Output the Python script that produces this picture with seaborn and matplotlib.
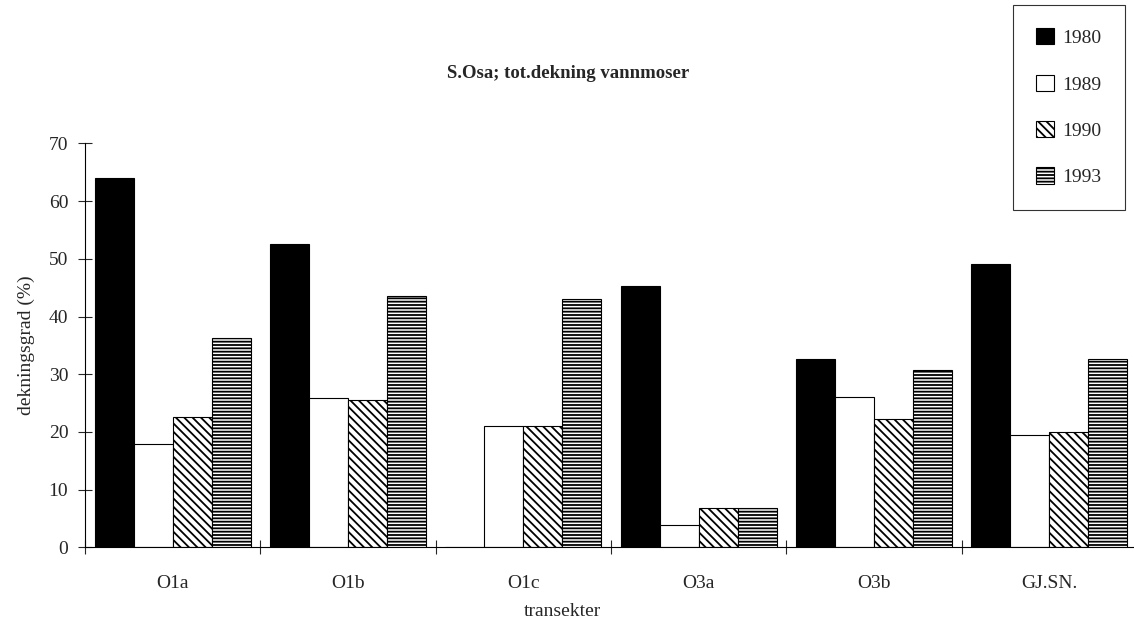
import pandas as pd
import numpy as np
import matplotlib
matplotlib.use("Agg")
import matplotlib.pyplot as plt
import matplotlib.patches as mpatches
import seaborn as sns

# data
transekter = ["O1a", "O1b", "O1c", "O3a", "O3b", "GJ.SN."]
years = ["1980", "1989", "1990", "1993"]
v1980 = [64.0, 52.6, 0.0, 45.2, 32.6, 49.1]
v1989 = [17.9, 25.8, 21.0, 3.9, 26.0, 19.5]
v1990 = [22.5, 25.5, 21.0, 6.8, 22.2, 20.0]
v1993 = [36.3, 43.6, 43.0, 6.8, 30.8, 32.7]

df = pd.DataFrame({
    "transekt": transekter * 4,
    "year": np.repeat(years, len(transekter)),
    "value": v1980 + v1989 + v1990 + v1993,
})

# stil per år
faces = {"1980": "black", "1989": "white", "1990": "white", "1993": "white"}
hatches = {"1980": "", "1989": "", "1990": "\\\\\\\\", "1993": "-----"}

sns.set_style("white")
plt.rcParams["font.family"] = ["Liberation Serif", "DejaVu Serif"]
plt.rcParams["hatch.linewidth"] = 1.3

fig = plt.figure(figsize=(11.34, 6.32), dpi=100)
ax = fig.add_axes([85 / 1134, (632 - 547.3) / 632, 1052 / 1134, (547.3 - 143.4) / 632])

sns.barplot(
    data=df, x="transekt", y="value", hue="year", hue_order=years,
    palette=faces, width=0.89, gap=0, edgecolor="black", linewidth=0.8,
    legend=False, ax=ax,
)
for cont, yr in zip(ax.containers, years):
    for bar in cont:
        bar.set_hatch(hatches[yr])

ax.set_ylim(0, 70)
ax.set_yticks(range(0, 71, 10))
ax.set_xlim(-0.5, len(transekter) - 0.5)
ax.set_xticks(np.arange(-0.5, len(transekter), 1.0), minor=True)
ax.tick_params(axis="x", which="major", length=0, pad=20, labelsize=14)
ax.tick_params(axis="x", which="minor", direction="inout", length=10, width=0.8, bottom=True)
ax.tick_params(axis="y", direction="inout", length=10, width=0.8, pad=7, labelsize=14, left=True)

sns.despine(ax=ax)
ax.spines["left"].set_linewidth(0.8)
ax.spines["bottom"].set_linewidth(0.8)
ax.spines["left"].set_color("black")
ax.spines["bottom"].set_color("black")

ax.set_xlabel("")
ax.set_ylabel("dekningsgrad (%)", fontsize=14, labelpad=10)

fig.text(568 / 1134, 1 - 73 / 632, "S.Osa; tot.dekning vannmoser",
         ha="center", va="center", fontsize=13.5, fontweight="bold")
fig.text(562 / 1134, 1 - 612 / 632, "transekter", ha="center", va="center", fontsize=14)

handles = [mpatches.Patch(facecolor=faces[y], edgecolor="black", hatch=hatches[y], linewidth=0.8)
           for y in years]
leg = fig.legend(
    handles, years, loc="upper left", bbox_to_anchor=(1013 / 1134, 1 - 5 / 632),
    fontsize=14, frameon=True, fancybox=False, edgecolor="black",
    labelspacing=1.42, borderpad=1.2, handlelength=0.9, handleheight=0.9,
    handletextpad=0.45, borderaxespad=0,
)
leg.get_frame().set_linewidth(0.8)

fig.savefig("out.png", dpi=100)
